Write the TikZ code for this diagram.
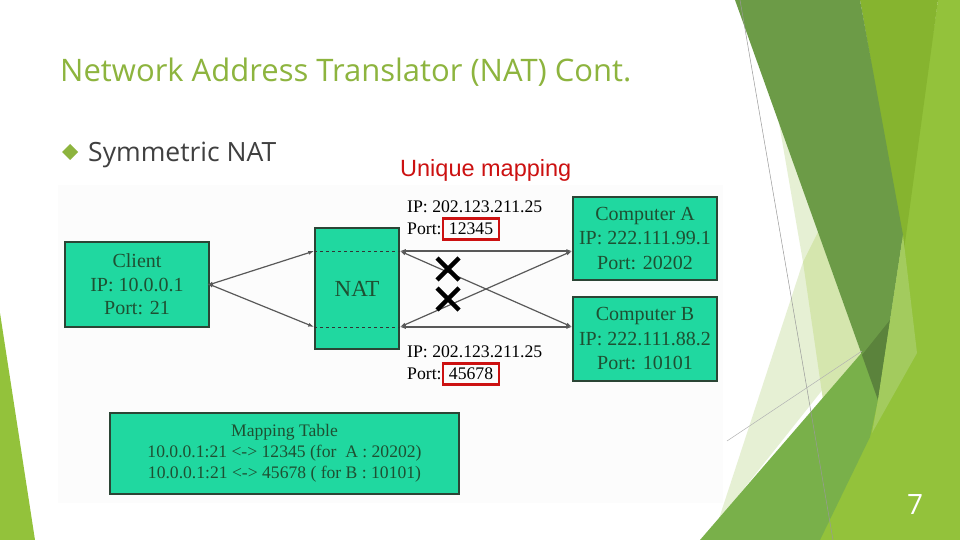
\documentclass[tikz,border=0pt]{standalone}
\usepackage{fontspec}
\setmainfont{Liberation Serif}
\newfontfamily\slidefont{Open Sans}
\newfontfamily\notefont{Liberation Sans}
\usetikzlibrary{arrows.meta,positioning}

\definecolor{boxfill}{HTML}{20D8A0}
\definecolor{boxtext}{HTML}{1E5032}
\definecolor{boxline}{HTML}{2B4535}
\definecolor{titlegreen}{HTML}{8DB43E}
\definecolor{markred}{HTML}{CC1111}
\definecolor{facetdark}{HTML}{6C9B47}
\definecolor{facetyellow}{HTML}{86B42F}
\definecolor{facetbright}{HTML}{93C23B}
\definecolor{facetmid}{HTML}{79B04A}
\definecolor{facetpale}{HTML}{E6F0D4}
\definecolor{facetpaler}{HTML}{D5E6AE}
\definecolor{facetlight}{HTML}{A3CB5E}

\tikzset{
  hostbox/.style={draw=boxline, line width=1.5pt, fill=boxfill, text=boxtext,
    align=center, inner sep=0pt},
  biglbl/.style={font=\fontsize{20}{23.5}\selectfont},
  addr/.style={inner sep=0pt, anchor=west, font=\fontsize{17.7}{21}\selectfont},
  portmark/.style={draw=markred, line width=2.2pt, inner xsep=6pt, inner ysep=0pt,
    minimum height=21pt, font=\fontsize{17.7}{21}\selectfont},
  link/.style={{Latex[length=6pt,width=4pt]}-{Latex[length=6pt,width=4pt]},
    draw=black!65, line width=1.2pt},
  cross/.style={line width=4.5pt}
}

\begin{document}
\begin{tikzpicture}[x=1pt,y=-1pt]
    \useasboundingbox (0,0) rectangle (960,540);
    \fill[white] (0,0) rectangle (960,540);

    % Facet shapes on the right
    \fill[facetbright] (938,0) -- (960,0) -- (960,540) -- (800,540) -- (878,398) -- (903,235) -- cycle;
    \fill[facetyellow] (860,0) -- (938,0) -- (904,250) -- cycle;
    \fill[facetpale] (779,123) -- (803,262) -- (712,540) -- (703,540) -- (870,330) -- (830,240) -- cycle;
    \fill[facetpaler] (818,232) -- (803,262) -- (823,400) -- (862,355) -- cycle;
    \fill[facetmid] (700,540) -- (890,320) -- (878,400) -- (870,437) -- (820,540) -- cycle;
    \fill[facetdark] (735,0) -- (860,0) -- (903,235) -- (878,400) -- cycle;
    \fill[black!25!facetdark, opacity=0.6] (862,355) -- (890,320) -- (878,400) -- cycle;
    \fill[facetlight] (903,235) -- (917,353) -- (872,433) -- (878,400) -- cycle;
    \draw[black!40, line width=0.5pt] (740,0) -- (833,540);
    \draw[black!30, line width=0.5pt] (727,441) -- (862,351);

    % Facet shape on the left
    \fill[facetbright] (0,313) -- (35,540) -- (0,540) -- cycle;

    % Title and bullet
    \node[anchor=base west, inner sep=0pt, text=titlegreen, font=\slidefont\fontsize{31}{36}\selectfont]
      (title) at (60,82) {Network Address Translator (NAT) Cont.};
    \fill[titlegreen] (62,152) -- (70,144) -- (78,152) -- (70,160) -- cycle;
    \node[anchor=base west, inner sep=0pt, text=black!75, font=\slidefont\fontsize{26.5}{30}\selectfont]
      (bullet) at (88,161) {Symmetric NAT};
    \node[anchor=base west, inner sep=0pt, text=markred, font=\notefont\fontsize{23.5}{28}\selectfont]
      (unique) at (400,176) {Unique mapping};

    % Picture area
    \fill[black!1] (58,185) rectangle (723,503);

    % Hosts
    \node[hostbox, biglbl, minimum width=144pt, minimum height=85pt] (client) at (137,284.5)
      {Client\\IP: 10.0.0.1\\Port: 21};
    \node[hostbox, font=\fontsize{23}{26}\selectfont, minimum width=84pt, minimum height=121pt]
      (nat) at (357,288.5) {NAT};
    \node[hostbox, font=\fontsize{20}{24.5}\selectfont, minimum width=144pt, minimum height=83pt]
      (compa) at (645,238.5) {Computer A\\IP: 222.111.99.1\\Port: 20202};
    \node[hostbox, font=\fontsize{20}{24.5}\selectfont, minimum width=144pt, minimum height=84pt]
      (compb) at (645,339) {Computer B\\IP: 222.111.88.2\\Port: 10101};
    \node[hostbox, font=\fontsize{17.6}{21}\selectfont, minimum width=349pt, minimum height=81pt]
      (table) at (284.5,453.5)
      {Mapping Table\\10.0.0.1:21 \textless-\textgreater{} 12345 (for\ \ A : 20202)\\10.0.0.1:21 \textless-\textgreater{} 45678 ( for B : 10101)};

    % Ports on the NAT
    \coordinate (natTL) at (nat.west |- 0,251);
    \coordinate (natBL) at (nat.west |- 0,327);
    \coordinate (natTR) at (nat.east |- 0,251);
    \coordinate (natBR) at (nat.east |- 0,327);
    \coordinate (aIn) at (compa.west |- natTR);
    \coordinate (bIn) at (compb.west |- natBR);
    \draw[black!80, line width=1pt, dashed] (natTL) -- (natTR);
    \draw[black!80, line width=1pt, dashed] (natBL) -- (natBR);

    % Connections
    \draw[link, shorten <=-3pt] (client.east) -- (natTL);
    \draw[link, shorten <=-3pt] (client.east) -- (natBL);
    \draw[link] (natTR) -- (aIn);
    \draw[link] (natBR) -- (bIn);
    \draw[link] (natTR) -- (bIn);
    \draw[link] (natBR) -- (aIn);

    % Blocked paths
    \draw[cross] (437,258) -- (459,280) (437,280) -- (459,258);
    \draw[cross] (437,288) -- (459,310) (437,310) -- (459,288);

    % Public addresses
    \node[addr] (ipa) at (407,207) {IP: 202.123.211.25};
    \node[addr] (porta) at (407,229) {Port:};
    \node[portmark, right=0pt of porta] (numa) {12345};
    \node[addr] (ipb) at (407,352) {IP: 202.123.211.25};
    \node[addr] (portb) at (407,374) {Port:};
    \node[portmark, right=0pt of portb] (numb) {45678};

    % Slide number
    \node[text=white, font=\slidefont\fontsize{28}{32}\selectfont] (num) at (915,505) {7};
\end{tikzpicture}
\end{document}
